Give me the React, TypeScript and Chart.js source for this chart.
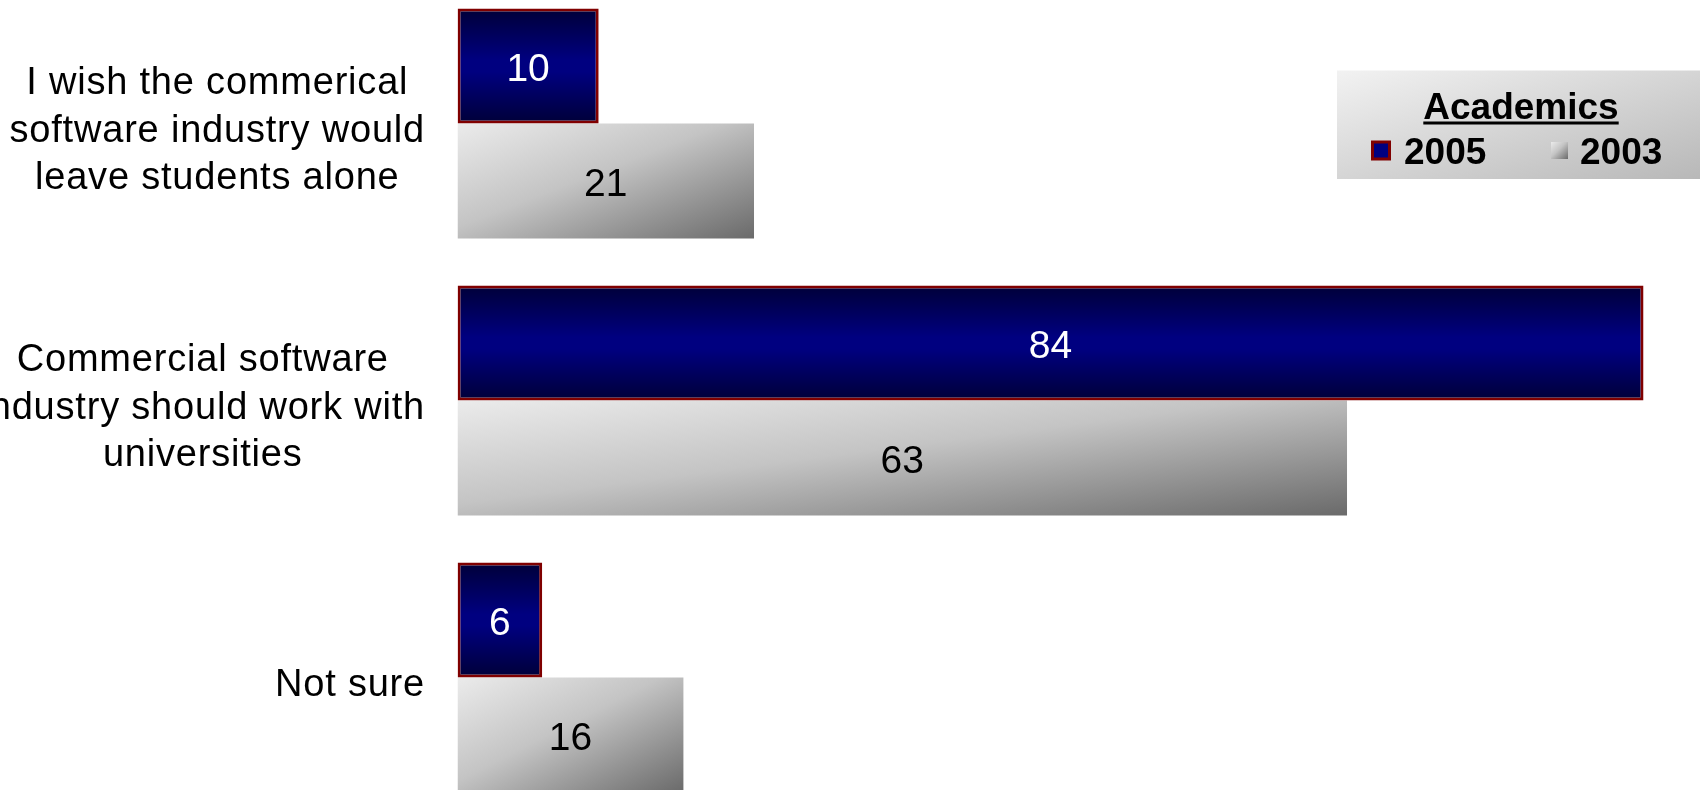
import React, { useEffect, useRef } from "react";
import { Chart, registerables } from "chart.js";

Chart.register(...registerables);

// ---- data ----
const categories: string[][] = [
  ["I wish the commerical", "software industry would", "leave students alone"],
  ["Commercial software", "industry should work with", "universities"],
  ["Not sure"],
];
const seriesLabels = ["2005", "2003"];
const values2005 = [10, 84, 6];
const values2003 = [21, 63, 16];
const legendTitle = "Academics";
const xMax = 88;

const FONT = '"Liberation Sans", Arial, sans-serif';

function bboxDiagGradient(
  ctx: CanvasRenderingContext2D,
  x0: number,
  y0: number,
  w: number,
  h: number,
  stops: [number, string][]
) {
  const ax = 1 / (2 * w);
  const ay = 1 / (2 * h);
  const n2 = ax * ax + ay * ay;
  const g = ctx.createLinearGradient(x0, y0, x0 + ax / n2, y0 + ay / n2);
  stops.forEach(([o, c]) => g.addColorStop(o, c));
  return g;
}

const GRAY_STOPS: [number, string][] = [
  [0, "#ebebeb"],
  [0.45, "#c4c4c4"],
  [1, "#6a6a6a"],
];

const barStylePlugin = {
  id: "barStyle",
  beforeDatasetsDraw(chart: any) {
    const ctx = chart.ctx as CanvasRenderingContext2D;
    chart.data.datasets.forEach((_: any, di: number) => {
      const meta = chart.getDatasetMeta(di);
      meta.data.forEach((el: any) => {
        const { x, y, base, height } = el.getProps(["x", "y", "base", "height"], true);
        const left = Math.min(x, base);
        const right = Math.max(x, base);
        const top = y - height / 2;
        const bottom = y + height / 2;
        let g: any;
        if (di === 0) {
          g = ctx.createLinearGradient(0, top, 0, bottom);
          g.addColorStop(0, "#000038");
          g.addColorStop(0.45, "#000080");
          g.addColorStop(0.55, "#000080");
          g.addColorStop(1, "#000038");
        } else {
          g = bboxDiagGradient(ctx, left, top, right - left, bottom - top, GRAY_STOPS);
        }
        el.options = { ...el.options, backgroundColor: g };
      });
    });
  },
};

const valueLabelPlugin = {
  id: "valueLabels",
  afterDatasetsDraw(chart: any) {
    const ctx = chart.ctx as CanvasRenderingContext2D;
    ctx.save();
    ctx.font = `39px ${FONT}`;
    ctx.textAlign = "center";
    ctx.textBaseline = "middle";
    chart.data.datasets.forEach((ds: any, di: number) => {
      const meta = chart.getDatasetMeta(di);
      meta.data.forEach((el: any, i: number) => {
        const { x, y, base } = el.getProps(["x", "y", "base"], true);
        ctx.fillStyle = di === 0 ? "#ffffff" : "#000000";
        ctx.fillText(String(ds.data[i]), (x + base) / 2, y + 4);
      });
    });
    ctx.restore();
  },
};

const categoryLabelPlugin = {
  id: "categoryLabels",
  afterDraw(chart: any) {
    const ctx = chart.ctx as CanvasRenderingContext2D;
    const yScale = chart.scales.y;
    ctx.save();
    ctx.font = `38px ${FONT}`;
    (ctx as any).letterSpacing = "0.8px";
    ctx.fillStyle = "#000000";
    ctx.textAlign = "center";
    ctx.textBaseline = "middle";
    const rightEdge = 425;
    const lineH = 47.5;
    categories.forEach((lines, i) => {
      const cy = yScale.getPixelForValue(i) + 8;
      const maxW = Math.max(...lines.map((l) => ctx.measureText(l).width));
      const cx = rightEdge - maxW / 2;
      lines.forEach((l, k) => {
        ctx.fillText(l, cx, cy + (k - (lines.length - 1) / 2) * lineH);
      });
    });
    ctx.restore();
  },
};

const legendPlugin = {
  id: "customLegend",
  afterDraw(chart: any) {
    const ctx = chart.ctx as CanvasRenderingContext2D;
    const bx = 1337;
    const by = 85.5;
    const bw = 363;
    const bh = 108.5;
    ctx.save();
    ctx.fillStyle = bboxDiagGradient(ctx, bx, by, bw, bh, [
      [0, "#f2f2f2"],
      [1, "#b8b8b8"],
    ]);
    ctx.fillRect(bx, by, bw, bh);

    ctx.fillStyle = "#000000";
    ctx.font = `bold 37px ${FONT}`;
    ctx.textBaseline = "alphabetic";
    ctx.textAlign = "center";
    const titleX = 1521;
    ctx.fillText(legendTitle, titleX, 133.5);
    const tw = ctx.measureText(legendTitle).width;
    ctx.fillRect(titleX - tw / 2, 136.5, tw, 3);

    // item 2005
    const my = 165.5;
    ctx.fillStyle = "#800000";
    ctx.fillRect(1371, my - 10, 20, 20);
    ctx.fillStyle = "#000080";
    ctx.fillRect(1374, my - 7, 14, 14);
    ctx.fillStyle = "#000000";
    ctx.textAlign = "left";
    ctx.fillText(chart.data.datasets[0].label, 1404, 179);

    // item 2003
    ctx.fillStyle = bboxDiagGradient(ctx, 1551, my - 8.5, 17, 17, GRAY_STOPS);
    ctx.fillRect(1551, my - 8.5, 17, 17);
    ctx.fillStyle = "#000000";
    ctx.fillText(chart.data.datasets[1].label, 1580, 179);
    ctx.restore();
  },
};

export default function App() {
  const canvasRef = useRef<HTMLCanvasElement | null>(null);

  useEffect(() => {
    if (!canvasRef.current) return;
    const chart = new Chart(canvasRef.current, {
      type: "bar",
      data: {
        labels: categories.map((c) => c.join(" ")),
        datasets: [
          {
            label: seriesLabels[0],
            data: values2005,
            backgroundColor: "#000080",
            borderColor: "#800000",
            borderWidth: 3,
            borderSkipped: false,
            categoryPercentage: 0.83,
            barPercentage: 1,
          },
          {
            label: seriesLabels[1],
            data: values2003,
            backgroundColor: "#bbbbbb",
            borderWidth: 0,
            categoryPercentage: 0.83,
            barPercentage: 1,
          },
        ],
      },
      options: {
        indexAxis: "y",
        responsive: false,
        animation: false,
        devicePixelRatio: 1,
        layout: { padding: { left: 457.5, right: 0, top: 0, bottom: 0 } },
        scales: {
          x: { display: false, min: 0, max: xMax },
          y: { display: false, offset: true },
        },
        plugins: {
          legend: { display: false },
          tooltip: { enabled: false },
        },
      },
      plugins: [barStylePlugin, valueLabelPlugin, categoryLabelPlugin, legendPlugin],
    });
    return () => chart.destroy();
  }, []);

  return (
    <div
      style={{
        position: "fixed",
        left: 0,
        top: 0,
        width: 1700,
        height: 790,
        overflow: "hidden",
        background: "#ffffff",
      }}
    >
      <canvas
        ref={canvasRef}
        width={1700}
        height={831}
        style={{ position: "absolute", left: 0, top: -15, width: 1700, height: 831 }}
      />
    </div>
  );
}
